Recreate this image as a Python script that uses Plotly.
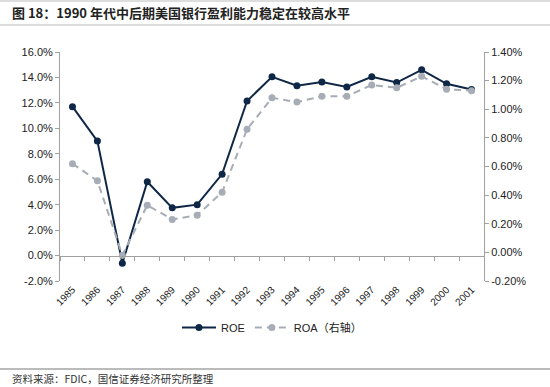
import plotly.graph_objects as go

years = [str(y) for y in range(1985, 2002)]
roe = [11.7, 9.0, -0.6, 5.8, 3.75, 4.0, 6.4, 12.15, 14.05, 13.35, 13.65, 13.25, 14.05, 13.6, 14.6, 13.5, 13.05]
roa = [0.62, 0.50, -0.02, 0.33, 0.23, 0.26, 0.42, 0.86, 1.08, 1.05, 1.09, 1.09, 1.17, 1.15, 1.23, 1.14, 1.13]

left_ticks = [-2, 0, 2, 4, 6, 8, 10, 12, 14, 16]
right_ticks = [-0.2, 0, 0.2, 0.4, 0.6, 0.8, 1.0, 1.2, 1.4]

NAVY = "#0f2747"
GREY = "#a7adb6"
AX = "#a0a0a0"
FONT = "Liberation Sans, Arial, Noto Sans CJK SC"

fig = go.Figure()
fig.add_trace(go.Scatter(x=years, y=roe, name="ROE", mode="lines+markers",
                         line=dict(color=NAVY, width=2), marker=dict(size=7, color=NAVY),
                         xaxis="x", yaxis="y"))
fig.add_trace(go.Scatter(x=years, y=roa, name="ROA（右轴）", mode="lines+markers",
                         line=dict(color=GREY, width=2, dash="7px,5px"), marker=dict(size=7, color=GREY),
                         xaxis="x", yaxis="y2"))
# invisible trace for zero-level axis
fig.add_trace(go.Scatter(x=years, y=[None]*len(years), showlegend=False, hoverinfo="skip",
                         xaxis="x2", yaxis="y"))

fig.update_layout(
    width=550, height=387,
    margin=dict(l=60, r=66, t=52, b=106),
    paper_bgcolor="white", plot_bgcolor="white",
    font=dict(family=FONT, size=11, color="#222"),
    showlegend=True,
    legend=dict(orientation="h", x=0.5, xanchor="center", y=-0.14, yanchor="top",
                font=dict(size=11, color="#222"), itemwidth=34, tracegroupgap=0),
    xaxis=dict(type="category", tickangle=-45, showline=False, ticks="", showgrid=False,
               tickfont=dict(size=10, color="#222"), range=[-0.5, 16.5]),
    xaxis2=dict(type="category", overlaying="x", anchor="free", position=2/18, side="bottom",
                showline=True, linecolor=AX, linewidth=1, ticks="outside", tickson="boundaries",
                ticklen=4, tickcolor=AX, showticklabels=False, showgrid=False, range=[-0.5, 16.5]),
    yaxis=dict(range=[-2, 16], tickvals=left_ticks,
               ticktext=[f"{v:.1f}%" for v in left_ticks], showline=True, linecolor=AX,
               ticks="outside", ticklen=4, tickcolor=AX, showgrid=False, zeroline=False,
               tickfont=dict(size=11, color="#222")),
    yaxis2=dict(range=[-0.2, 1.4], tickvals=right_ticks, overlaying="y", side="right",
                ticktext=[f"{v:.2f}%" for v in right_ticks], showline=True, linecolor=AX,
                ticks="outside", ticklen=4, tickcolor=AX, showgrid=False, zeroline=False,
                tickfont=dict(size=11, color="#222")),
    shapes=[
        dict(type="line", xref="paper", yref="paper", x0=-60/424, x1=490/424, y0=1+51/229, y1=1+51/229,
             line=dict(color="#bbbbbb", width=1)),
        dict(type="line", xref="paper", yref="paper", x0=-60/424, x1=490/424, y0=1+27/229, y1=1+27/229,
             line=dict(color="#bbbbbb", width=1)),
        dict(type="line", xref="paper", yref="paper", x0=-60/424, x1=490/424, y0=-88/229, y1=-88/229,
             line=dict(color="#bbbbbb", width=2)),
    ],
    annotations=[
        dict(text="<b>图 18：1990 年代中后期美国银行盈利能力稳定在较高水平</b>", xref="paper", yref="paper",
             x=-50/424, y=1+39/229, xanchor="left", yanchor="middle", showarrow=False,
             font=dict(family="Noto Sans CJK SC", size=13, color="#222")),
        dict(text="资料来源：FDIC，国信证券经济研究所整理", xref="paper", yref="paper",
             x=-50/424, y=-97/229, xanchor="left", yanchor="middle", showarrow=False,
             font=dict(family="Noto Sans CJK SC", size=10.5, color="#333")),
    ],
)

fig.write_html("out.html", config={"displayModeBar": False},
               post_script="document.body.style.margin='0';")
